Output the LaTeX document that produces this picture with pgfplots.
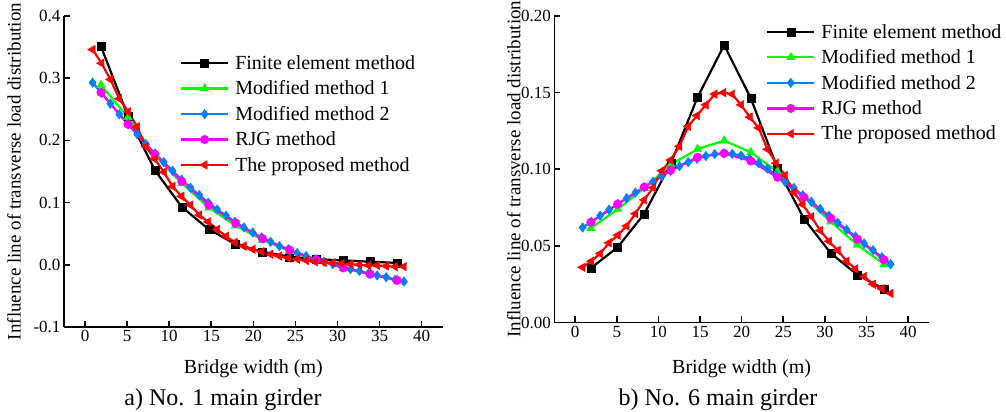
\documentclass[border=0pt]{standalone}
\usepackage{fontspec}
\setmainfont{Liberation Serif}
\usepackage{pgfplots}
\usepackage{pgfplotstable}
\pgfplotsset{compat=1.18}

\definecolor{cgreen}{RGB}{0,255,0}
\definecolor{cblue}{RGB}{0,128,255}
\definecolor{cmag}{RGB}{255,0,255}
\definecolor{cred}{RGB}{255,0,0}

% sparse series (girder positions)
\pgfplotstableread{
x     fema   m1a    rjga   femb    m1b     rjgb
1.9   0.351  0.289  0.277  0.0355  0.0615  0.0654
5.1   0.239  0.237  0.226  0.0491  0.0739  0.0772
8.3   0.152  0.176  0.178  0.0709  0.0876  0.0883
11.5  0.093  0.131  0.134  0.1039  0.1030  0.0995
14.7  0.057  0.092  0.096  0.1469  0.1132  0.1078
17.9  0.033  0.063  0.067  0.1810  0.1187  0.1104
21.1  0.021  0.040  0.042  0.1463  0.1110  0.1054
24.3  0.013  0.022  0.024  0.1006  0.0984  0.0948
27.5  0.009  0.008  0.008  0.0676  0.0815  0.0817
30.7  0.007  -0.005 -0.005 0.0452  0.0658  0.0680
33.9  0.005  -0.015 -0.015 0.0311  0.0506  0.0544
37.1  0.003  -0.024 -0.025 0.0218  0.0380  0.0409
}\sparse

% dense series
\pgfplotstableread{
x      m2a     pra     m2b     prb
0.90   0.293   0.346   0.0620  0.036
1.96   0.276   0.324   0.0658  0.040
3.01   0.259   0.298   0.0697  0.045
4.07   0.242   0.267   0.0736  0.052
5.13   0.226   0.246   0.0774  0.057
6.19   0.210   0.222   0.0811  0.063
7.24   0.194   0.190   0.0848  0.071
8.30   0.179   0.170   0.0884  0.080
9.36   0.165   0.149   0.0919  0.088
10.41  0.151   0.126   0.0955  0.099
11.47  0.137   0.110   0.0990  0.106
12.53  0.124   0.096   0.1020  0.115
13.58  0.112   0.080   0.1046  0.128
14.64  0.100   0.069   0.1068  0.135
15.70  0.089   0.057   0.1086  0.142
16.76  0.079   0.046   0.1099  0.149
17.81  0.069   0.036   0.1104  0.150
18.87  0.060   0.030   0.1101  0.149
19.93  0.052   0.025   0.1089  0.142
20.98  0.044   0.021   0.1069  0.134
22.04  0.037   0.017   0.1040  0.127
23.10  0.030   0.014   0.1004  0.113
24.15  0.025   0.011   0.0962  0.104
25.21  0.019   0.009   0.0918  0.096
26.27  0.014   0.007   0.0878  0.085
27.33  0.009   0.005   0.0830  0.077
28.38  0.005   0.004   0.0788  0.069
29.44  0.001   0.003   0.0741  0.060
30.50  -0.003  0.002   0.0697  0.053
31.55  -0.007  0.001   0.0651  0.047
32.61  -0.010  0.000   0.0606  0.040
33.67  -0.014  -0.001  0.0561  0.035
34.72  -0.017  -0.001  0.0515  0.030
35.78  -0.020  -0.002  0.0472  0.025
36.84  -0.024  -0.003  0.0426  0.022
37.90  -0.027  -0.003  0.0380  0.019
}\dense

\pgfplotsset{
  common/.style={
    scale only axis,
    axis x line*=bottom, axis y line*=left,
    axis line style={line width=1.6pt, -},
    tick align=inside,
    major tick length=6pt,
    every tick/.style={black, line width=1.6pt},
    xmin=-2.5, xmax=42.5,
    xtick={0,5,10,15,20,25,30,35,40},
    ticklabel style={font=\fontsize{17}{20}\selectfont},
    /pgf/number format/assume math mode=true,
    xlabel style={font=\fontsize{20}{24}\selectfont},
    ylabel style={font=\fontsize{19}{23}\selectfont},
    xlabel={Bridge width (m)},
    ylabel={Influence line of transverse load distribution},
    legend cell align=left,
    legend style={draw=none, fill=none, font=\fontsize{20}{24}\selectfont,
      anchor=north west, row sep=6pt, column sep=4pt},
    legend image code/.code={\draw[mark repeat=2,mark phase=2,##1] plot coordinates {(0pt,0pt) (23.5pt,0pt) (47pt,0pt)};},
    fem/.style={black, line width=2.2pt, mark=square*, mark size=4pt, mark options={line width=0.4pt, fill=black}},
    mone/.style={cgreen, line width=2.2pt, mark=triangle*, mark size=5pt, mark options={line width=0.4pt, fill=cgreen}},
    mtwo/.style={cblue, line width=2.2pt, mark=diamond*, mark size=4.8pt, mark options={line width=0.4pt, fill=cblue}},
    rjg/.style={cmag, line width=2.2pt, mark=*, mark size=4.3pt, mark options={line width=0.4pt, fill=cmag}},
    prop/.style={cred, line width=2.2pt, mark=triangle*, mark size=5pt, mark options={line width=0.4pt, fill=cred, rotate=90}},
  },
}

\begin{document}
\begin{tikzpicture}
\useasboundingbox (0,0) rectangle (1006pt,412pt);

\begin{axis}[common,
  at={(64pt,85pt)}, anchor=south west,
  width=378.7pt, height=311pt,
  ymin=-0.1, ymax=0.4,
  ytick={-0.1,0,0.1,0.2,0.3,0.4},
  yticklabel style={/pgf/number format/.cd, fixed, fixed zerofill, precision=1},
  xlabel style={at={(axis description cs:0.5,-0.151)}, anchor=base},
  ylabel style={at={(axis description cs:-0.132,0.5)}, anchor=center},
  legend style={at={(axis description cs:0.298,0.887)}},
]
\addplot[fem]  table[x=x, y=fema] {\sparse};
\addplot[mone] table[x=x, y=m1a] {\sparse};
\addplot[mtwo] table[x=x, y=m2a] {\dense};
\addplot[rjg]  table[x=x, y=rjga] {\sparse};
\addplot[prop] table[x=x, y=pra] {\dense};
\legend{Finite element method, Modified method 1, Modified method 2, RJG method, The proposed method}
\end{axis}

\begin{axis}[common,
  at={(554.3pt,89.5pt)}, anchor=south west,
  width=374.7pt, height=306.5pt,
  ymin=0, ymax=0.2,
  ytick={0,0.05,0.1,0.15,0.2},
  yticklabel style={/pgf/number format/.cd, fixed, fixed zerofill, precision=2},
  xlabel style={at={(axis description cs:0.5,-0.168)}, anchor=base},
  ylabel style={at={(axis description cs:-0.108,0.5)}, anchor=center},
  legend style={at={(axis description cs:0.557,0.987)}},
]
\addplot[fem]  table[x=x, y=femb] {\sparse};
\addplot[mone] table[x=x, y=m1b] {\sparse};
\addplot[mtwo] table[x=x, y=m2b] {\dense};
\addplot[rjg]  table[x=x, y=rjgb] {\sparse};
\addplot[prop] table[x=x, y=prb] {\dense};
\legend{Finite element method, Modified method 1, Modified method 2, RJG method, The proposed method}
\end{axis}

\node[font=\fontsize{24}{28}\selectfont, anchor=base] at (223pt,6pt) {a) No. 1 main girder};
\node[font=\fontsize{24}{28}\selectfont, anchor=base] at (718pt,6pt) {b) No. 6 main girder};
\end{tikzpicture}
\end{document}
